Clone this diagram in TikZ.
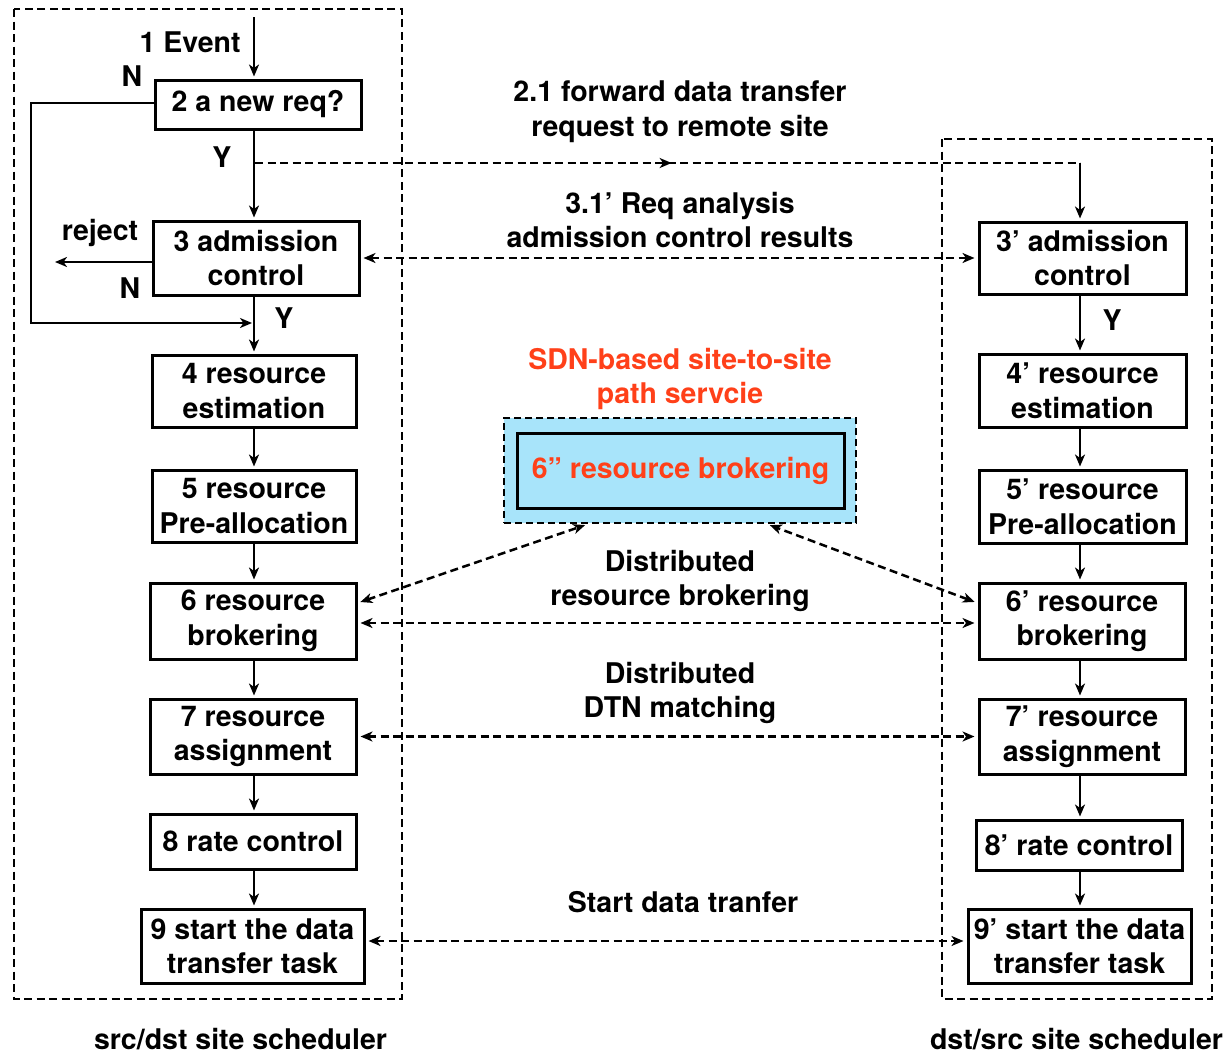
\documentclass[tikz,border=0pt]{standalone}
\usepackage{fontspec}
\setmainfont{TeX Gyre Heros}
\usetikzlibrary{arrows.meta,decorations.markings}
\definecolor{cyanfill}{RGB}{168,228,250}
\definecolor{redtxt}{RGB}{255,64,25}
\begin{document}
\begin{tikzpicture}[x=1pt,y=-1pt,
  font=\fontsize{28.5}{34.5}\selectfont\bfseries,
  box/.style={draw, line width=3pt, align=center, inner sep=0pt, minimum height=74pt},
  lbl/.style={align=center, inner sep=0pt},
  arr/.style={line width=2.5pt, -{Stealth[length=12pt,width=10pt,inset=3.5pt]}, shorten >=2pt},
  dline/.style={line width=2.5pt, dash pattern=on 8pt off 4.5pt},
  darr/.style={dline, {Stealth[length=12pt,width=10pt,inset=3.5pt]}-{Stealth[length=12pt,width=10pt,inset=3.5pt]}, shorten >=3pt, shorten <=3pt},
  cont/.style={line width=2.5pt, dash pattern=on 8pt off 4.5pt},
]
\fill[white] (0,0) rectangle (1231,1055);
\useasboundingbox (0,0) rectangle (1231,1055);

% containers
\draw[cont] (14,9) rectangle (402,999);
\draw[cont] (942,139) rectangle (1212,999);

% left column
\node[box, minimum width=206pt, minimum height=49pt] (b2) at (258,104.5) {2 a new req?};
\node[box, minimum width=206pt] (b3) at (256,258) {3 admission\\control};
\node[box, minimum width=204pt, minimum height=72pt] (b4) at (254,391) {4 resource\\estimation};
\node[box, minimum width=204pt, minimum height=72pt] (b5) at (254,506) {5 resource\\Pre-allocation};
\node[box, minimum width=206pt, minimum height=76pt] (b6) at (253,621) {6 resource\\brokering};
\node[box, minimum width=206pt, minimum height=75pt] (b7) at (253,736.5) {7 resource\\assignment};
\node[box, minimum width=206pt, minimum height=55pt] (b8) at (253,841.5) {8 rate control};
\node[box, minimum width=223pt] (b9) at (252.5,946) {9 start the data\\transfer task};

% right column
\node[box, minimum width=207pt, minimum height=72pt] (r3) at (1082.5,258) {3’ admission\\control};
\node[box, minimum width=207pt, minimum height=73pt] (r4) at (1082.5,390.5) {4’ resource\\estimation};
\node[box, minimum width=207pt, minimum height=73pt] (r5) at (1082.5,506.5) {5’ resource\\Pre-allocation};
\node[box, minimum width=206pt, minimum height=76pt] (r6) at (1082,621) {6’ resource\\brokering};
\node[box, minimum width=206pt, minimum height=75pt] (r7) at (1082,736.5) {7’ resource\\assignment};
\node[box, minimum width=206pt, minimum height=50pt] (r8) at (1079,845) {8’ rate control};
\node[box, minimum width=223pt] (r9) at (1079.5,946) {9’ start the data\\transfer task};

% SDN service
\node[draw, fill=cyanfill, line width=2.2pt, dash pattern=on 7pt off 4pt, minimum width=352pt, minimum height=105pt, inner sep=0pt] (sdn) at (680,470.5) {};
\node[box, minimum width=327pt, minimum height=75pt, text=redtxt] (b6pp) at (680.5,470.5) {6” resource brokering};
\node[lbl, anchor=north, text=redtxt] (sdnlbl) at (680,348) {SDN-based site-to-site\\path servcie};

% labels
\node[lbl, anchor=base] (ev) at (190,52) {1 Event};
\node[lbl, anchor=base] (n1) at (132,86) {N};
\node[lbl, anchor=base] (y1) at (222,167) {Y};
\node[lbl, anchor=base] (rej) at (100,240) {reject};
\node[lbl, anchor=base] (n2) at (130,298) {N};
\node[lbl, anchor=base] (y2) at (284,328) {Y};
\node[lbl, anchor=base] (y3) at (1112,330) {Y};
\node[lbl, anchor=north] (l21) at (680,81) {2.1 forward data transfer\\request to remote site};
\node[lbl, anchor=north] (l31) at (680,192) {3.1’ Req analysis\\admission control results};
\node[lbl, anchor=north] (ldrb) at (680,550) {Distributed\\resource brokering};
\node[lbl, anchor=north] (ldtn) at (680,662) {Distributed\\DTN matching};
\node[lbl, anchor=base] (lsd) at (683,912) {Start data tranfer};
\node[lbl, anchor=base] (lsrc) at (240.5,1049) {src/dst site scheduler};
\node[lbl, anchor=base] (ldst) at (1076.5,1049) {dst/src site scheduler};

% helper coordinates
\coordinate (colL) at (254,0);
\coordinate (colR) at (1080,0);
\coordinate (evs) at (254,17);
\coordinate (lx) at (31,0);
\coordinate (lend) at (252,323);
\coordinate (rejend) at (55,262);
\coordinate (fs) at (255,163);
\coordinate (fc) at (1080,163);

% left flow
\draw[arr] (evs) -- (evs |- b2.north);
\draw[arr] (b2.south -| colL) -- (b3.north -| colL);
\draw[arr, shorten >=0pt] (b2.west |- 0,103) -- (lx |- 0,103) |- (lend);
\draw[arr, shorten >=0pt] (rejend -| b3.west) -- (rejend);
\draw[arr] (b3.south -| colL) -- (b4.north -| colL);
\draw[arr] (b4.south -| colL) -- (b5.north -| colL);
\draw[arr] (b5.south -| colL) -- (b6.north -| colL);
\draw[arr] (b6.south -| colL) -- (b7.north -| colL);
\draw[arr] (b7.south -| colL) -- (b8.north -| colL);
\draw[arr] (b8.south -| colL) -- (b9.north -| colL);

% right flow
\draw[dline, postaction={decorate}, decoration={markings, mark=at position 0.505 with {\arrow[solid]{Stealth[length=12pt,width=10pt,inset=3.5pt]}}}] (fs) -- (fc);
\draw[arr] (fc) -- (r3.north -| fc);
\draw[arr] (r3.south -| colR) -- (r4.north -| colR);
\draw[arr] (r4.south -| colR) -- (r5.north -| colR);
\draw[arr] (r5.south -| colR) -- (r6.north -| colR);
\draw[arr] (r6.south -| colR) -- (r7.north -| colR);
\draw[arr] (r7.south -| colR) -- (r8.north -| colR);
\draw[arr] (r8.south -| colR) -- (r9.north -| colR);

% cross links
\draw[darr] (b3.east) -- (r3.west);
\draw[darr] ([yshift=18pt]b6.east) -- ([xshift=-92pt]sdn.south);
\draw[darr] ([yshift=18pt]r6.west) -- ([xshift=87pt]sdn.south);
\draw[darr] ([yshift=-2pt]b6.east) -- ([yshift=-2pt]r6.west);
\draw[darr] (b7.east) -- (r7.west);
\draw[darr] ([yshift=5pt]b9.east) -- ([yshift=5pt]r9.west);
\end{tikzpicture}
\end{document}
